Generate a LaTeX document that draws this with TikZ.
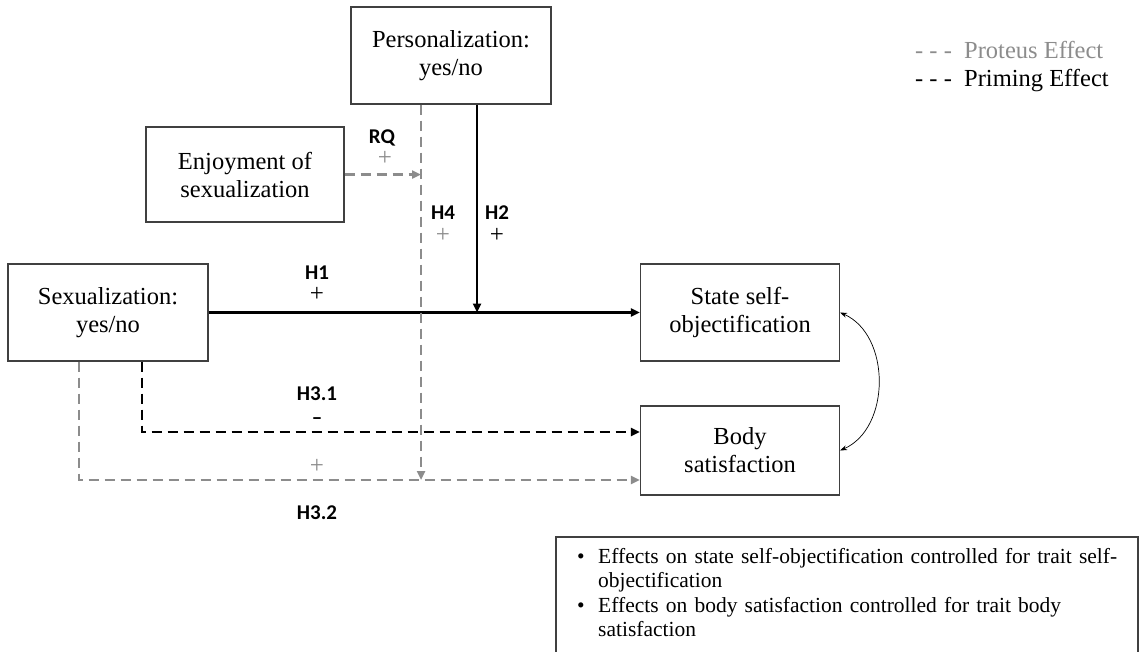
\documentclass[tikz,border=0pt]{standalone}
\usepackage{fontspec}
\setmainfont{Liberation Serif}
\newfontfamily\hypfont{Carlito}
\usetikzlibrary{arrows.meta,positioning}

\definecolor{proteus}{HTML}{8C8C8C}

\tikzset{
  var/.style = {draw = black!75, line width = 1.2pt, align = center,
                font = \fontsize{24.5}{28}\selectfont, inner sep = 0pt},
  solidarrow/.style = {line width = 2.6pt, -{Triangle[length = 9pt, width = 8pt]}},
  primearrow/.style = {line width = 2.8pt, dash pattern = on 10pt off 6pt,
                       -{Triangle[length = 9pt, width = 8pt]}},
  proteusarrow/.style = {primearrow, line width = 2.5pt, draw = proteus},
  hyp/.style = {font = \hypfont\bfseries\fontsize{21}{21}\selectfont, inner sep = 0pt,
                text height = 14pt, text depth = 0pt},
  sign/.style = {font = \fontsize{25}{25}\selectfont, inner sep = 0pt,
                 text height = 12.5pt, text depth = 0pt}
}

\newcommand{\notebullet}{\noindent\makebox[21pt][l]{\textbullet}\hangindent = 21pt \hangafter = 1 }

\begin{document}
\begin{tikzpicture}[x = 1pt, y = -1pt]
            \useasboundingbox (0,0) rectangle (1140,651);

            % variables
            \node[var, minimum width = 200pt, minimum height = 97pt]
                (pers) at (451,55.5) {Personalization:\\yes/no};
            \node[var, minimum width = 198pt, minimum height = 95pt]
                (enjoy) at (245,174.5) {Enjoyment of\\sexualization};
            \node[var, minimum width = 200pt, minimum height = 97pt]
                (sex) at (108,312.5) {Sexualization:\\yes/no};
            \node[var, minimum width = 199pt, minimum height = 97pt]
                (state) at (740,312.5) {State self-\\objectification};
            \node[var, minimum width = 199pt, minimum height = 89pt]
                (body) at (740,450.5) {Body\\satisfaction};

            % points on the paths
            \coordinate (h2x) at (477,0);
            \coordinate (h4x) at (421,0);
            \coordinate (in31) at ([yshift = 18.5pt]body.west);
            \coordinate (in32) at ([yshift = -29.5pt]body.west);

            % effects
            \draw [solidarrow] (sex.east) -- (state.west);
            \draw [solidarrow] (pers.south -| h2x) -- (sex.east -| h2x);
            \draw [proteusarrow] (pers.south -| h4x) -- (h4x |- in32);
            \draw [proteusarrow] (enjoy.east) -- (enjoy.east -| h4x);
            \draw [primearrow] ([xshift = 34pt]sex.south) |- (in31);
            \draw [proteusarrow] ([xshift = -29pt]sex.south) |- (in32);

            \draw [line width = 0.7pt, {Stealth[length = 7pt, width = 5pt]}-{Stealth[length = 7pt, width = 5pt]}]
            (state.east) .. controls (891,335) and (891,428) .. (body.east);

            % hypotheses
            \node[hyp] (lH1) at (317,272) {H1};
            \node[sign] (sH1) at (317,295) {+};
            \node[hyp] (lH2) at (497,212) {H2};
            \node[sign] (sH2) at (497,236) {+};
            \node[hyp] (lH4) at (443,212) {H4};
            \node[sign, text = proteus] (sH4) at (443,236) {+};
            \node[hyp] (lRQ) at (382,136) {RQ};
            \node[sign, text = proteus] (sRQ) at (385,159) {+};
            \node[hyp] (lH31) at (317,393) {H3.1};
            \node[hyp] (sH31) at (317,417) {\textendash};
            \node[sign, text = proteus] (sH32) at (317,467) {+};
            \node[hyp] (lH32) at (317,512) {H3.2};

            % legend
            \node[anchor = base west, inner sep = 0pt, text = proteus,
                  font = \fontsize{24.5}{28}\selectfont]
                (legPro) at (915,58) {- - -\enspace Proteus Effect};
            \node[anchor = base west, inner sep = 0pt,
                  font = \fontsize{24.5}{28}\selectfont]
                (legPri) at (915,86) {- - -\enspace Priming Effect};

            % note
            \draw [draw = black!75, line width = 1.2pt]
            (556,662) |- (1138,537) -- (1138,662);
            \node[anchor = base west, inner sep = 0pt, text width = 540pt,
                  align = left, font = \fontsize{21.5}{24.5}\selectfont]
                (note) at (577,563) {%
                \notebullet Effects on state self-objectification controlled for trait self-\newline objectification\par
                \notebullet Effects on body satisfaction controlled for trait body\newline satisfaction\par};
\end{tikzpicture}
\end{document}
